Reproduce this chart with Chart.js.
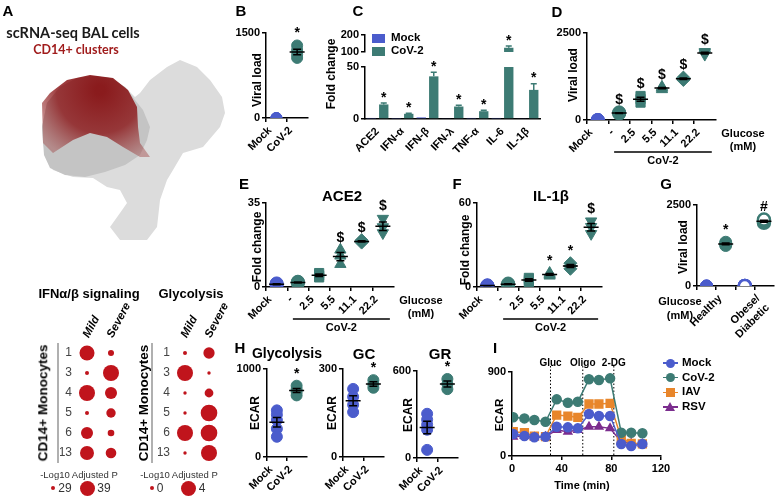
<!DOCTYPE html>
<html lang="en">
<head>
<meta charset="UTF-8">
<title>CoV-2 infection, glucose and glycolysis in monocytes</title>
<script src="https://cdn.jsdelivr.net/npm/chart.js@4.4.0/dist/chart.umd.min.js"></script>
<style>
  html, body { margin: 0; padding: 0; background: #fff; }
  #fig { position: relative; width: 781px; height: 499px; overflow: hidden; font-family: "Liberation Sans", Arial, sans-serif; }
  #fig canvas { position: absolute; }
  .t { position: absolute; white-space: nowrap; line-height: 1; font-weight: bold; color: #000; }
  .s { position: absolute; }
</style>
</head>
<body>
<div id="fig"></div>
<script>
// ---------- data ----------

// A: UMAP outlines (figure units)
const umapAll = [[42,127],[47,103],[60,87],[77,78],[93,76],[110,78],[125,87],[135,97],[140,93],[150,80],[167,67],[180,60],[197,67],[210,80],[222,97],[225,113],[220,127],[203,147],[183,153],[173,170],[167,180],[160,200],[157,227],[147,240],[120,240],[110,227],[120,213],[127,203],[120,190],[107,187],[93,178],[73,177],[53,170],[47,160],[43,143]];
const umapMain = [[42,127],[47,103],[60,87],[77,78],[93,76],[110,78],[125,87],[135,100],[143,110],[150,127],[147,140],[140,155],[125,165],[105,172],[85,177],[65,175],[50,168],[44,155]];
const umapRed = [[42,103],[50,93],[67,80],[90,75],[113,78],[128,90],[137,107],[138,127],[140,143],[150,157],[140,157],[123,147],[107,137],[90,133],[73,140],[53,153],[43,143]];

// A: dot plots, -log10 adjusted P
const clusters = ['1', '3', '4', '5', '6', '13'];
const severity = ['Mild', 'Severe'];
const ifnMild = [38.2, 29, 39, 29, 35.7, 37.3];
const ifnSevere = [30.7, 39, 35.7, 33.5, 31.2, 34.5];
const glyMild = [0.2, 4, 0, 0, 4, 0];
const glySevere = [2.5, 0, 1.7, 4.2, 4.2, 4];

// B
const infection = ['Mock', 'CoV-2'];
const bViral = [[0, 0, 0], [1280, 1200, 1120, 1060]];
const bSigns = ['', '*'];

// C
const genes = ['ACE2', 'IFN-α', 'IFN-β', 'IFN-λ', 'TNF-α', 'IL-6', 'IL-1β'];
const cMock = [1, 0.5, 1.5, 0.8, 1, 1, 0.8];
const cCov = [14, 5, 41, 12, 7.5, 125, 28];
const cCovErr = [1.5, 0.6, 4, 1.2, 0.8, 10, 6];

// D-F
const glucose = ['Mock', '-', '2.5', '5.5', '11.1', '22.2'];
const dViral = [[0, 0, 0], [180, 200, 220], [500, 600, 690], [880, 920, 950], [1150, 1180, 1220], [1880, 1930, 1960]];
const dSigns = ['', '$', '$', '$', '$', '$'];
const eAce2 = [[0.8, 1.2, 1.5], [1.5, 2, 2.2], [4, 4.8, 5.8], [9.5, 13, 15.5], [18.5, 19, 19.5], [22.5, 25, 28.5]];
const eSigns = ['', '', '', '$', '$', '$'];
const fIl1b = [[0.8, 1, 1.2], [1.5, 2, 2.5], [3.5, 5, 6.5], [8, 9, 10], [13, 15, 17], [38, 43, 47]];
const fSigns = ['', '', '', '*', '*', '$'];

// G
const cohort = ['', 'Healthy', '', ['Obese/', 'Diabetic']];
const gViral = [[0, 0, 0], [1250, 1300, 1350], [0, 0, 0], [1950, 2000, 2050]];
const gSigns = ['', '*', '', '#'];

// H
const hGlycolysis = [[530, 480, 420, 320, 230], [810, 770, 740, 700]];
const hGC = [[232, 205, 178, 153], [262, 248, 236]];
const hGR = [[305, 265, 230, 195, 56], [545, 510, 475]];
const hSigns = ['', '*'];

// I
const timeMin = [1, 10, 18, 27, 36, 45, 53, 62, 70, 79, 88, 96, 105];
const iMock = [236, 214, 200, 207, 314, 307, 296, 450, 428, 428, 129, 107, 129];
const iCov = [415, 403, 386, 367, 607, 571, 582, 822, 814, 832, 250, 250, 243];
const iIav = [260, 250, 214, 207, 439, 428, 414, 557, 557, 564, 190, 136, 129];
const iRsv = [207, 214, 200, 207, 279, 260, 279, 314, 314, 296, 153, 136, 129];
const injections = [31, 57, 82];
const injectionNames = ['Gluc', 'Oligo', '2-DG'];

// ---------- look ----------
const FONT = '"Liberation Sans", Arial, sans-serif';
const BLUE = '#4b5ccc', TEAL = '#3d7b74', ORANGE = '#e8862b', PURPLE = '#7b2d8e', RED = '#c0141c';

Chart.defaults.font.family = FONT;
Chart.defaults.font.size = 11;
Chart.defaults.font.weight = 'bold';
Chart.defaults.color = '#000';
Chart.defaults.animation = false;
Chart.defaults.responsive = false;
Chart.defaults.events = [];
Chart.defaults.plugins.legend.display = false;
Chart.defaults.plugins.tooltip.enabled = false;

const fig = document.getElementById('fig');

function canvasAt(left, top, w, h) {
  const c = document.createElement('canvas');
  c.width = w; c.height = h;
  c.style.left = left + 'px'; c.style.top = top + 'px';
  fig.appendChild(c);
  return c;
}

// put a chart so that its plot area lands on `plot` (figure pixels)
function place(plot, yW, xH, pad, config) {
  const w = plot.r - plot.l + yW + (pad.l || 0) + (pad.r || 0);
  const h = plot.b - plot.t + (pad.t || 0) + xH + (pad.b || 0);
  const c = canvasAt(plot.l - yW - (pad.l || 0), plot.t - (pad.t || 0), w, h);
  config.options.layout = { padding: { left: pad.l || 0, right: pad.r || 0, top: pad.t || 0, bottom: pad.b || 0 } };
  const sc = config.options.scales;
  sc.y.afterFit = s => { s.width = yW; s.paddingTop = 0; s.paddingBottom = 0; };
  sc.x.afterFit = s => { s.height = xH; s.paddingLeft = 0; s.paddingRight = 0; };
  return new Chart(c, config);
}

function label(text, x, y, size, o = {}) {
  const d = document.createElement('div');
  d.className = 't';
  d.textContent = text;
  d.style.left = x + 'px';
  d.style.top = y + 'px';
  d.style.fontSize = size + 'px';
  let tf = o.left ? 'translate(0,-50%)' : 'translate(-50%,-50%)';
  if (o.rot) tf += ' rotate(' + o.rot + 'deg)';
  d.style.transform = tf;
  if (o.color) d.style.color = o.color;
  if (o.weight) d.style.fontWeight = o.weight;
  if (o.family) d.style.fontFamily = o.family;
  fig.appendChild(d);
}

function shape(x, y, w, h, css) {
  const d = document.createElement('div');
  d.className = 's';
  d.style.left = (x - w / 2) + 'px';
  d.style.top = (y - h / 2) + 'px';
  d.style.width = w + 'px';
  d.style.height = h + 'px';
  Object.assign(d.style, css);
  fig.appendChild(d);
}

function yLin(min, max, step) {
  return {
    type: 'linear', min, max,
    ticks: { stepSize: step, padding: 2, autoSkip: false, format: { useGrouping: false } },
    grid: { drawOnChartArea: false, tickLength: 4, color: '#000', lineWidth: 1.5 },
    border: { color: '#000', width: 1.5 }
  };
}

function xIdx(labels) {
  return {
    type: 'linear', min: -0.5, max: labels.length - 0.5,
    ticks: {
      stepSize: 1, includeBounds: false, autoSkip: false,
      maxRotation: 45, minRotation: 45, padding: 2, labelOffset: 4,
      callback: v => labels[Math.round(v)]
    },
    grid: { drawOnChartArea: false, tickLength: 4, color: '#000', lineWidth: 1.5 },
    border: { color: '#000', width: 1.5 }
  };
}

function stats(g) {
  const n = g.length;
  const m = g.reduce((a, b) => a + b, 0) / n;
  const sd = Math.sqrt(g.reduce((a, b) => a + (b - m) * (b - m), 0) / (n - 1));
  return { m, se: sd / Math.sqrt(n) };
}

// mean +/- SEM bars
function summaryPlugin(groups) {
  return {
    id: 'summary',
    afterDatasetsDraw(chart) {
      const { ctx, scales: { x, y } } = chart;
      ctx.save();
      ctx.strokeStyle = '#000';
      ctx.lineWidth = 1.5;
      groups.forEach((g, i) => {
        const s = stats(g);
        if (s.m === 0 && s.se === 0) return;
        const px = x.getPixelForValue(i);
        const ym = y.getPixelForValue(s.m);
        const yl = y.getPixelForValue(s.m - s.se);
        const yh = y.getPixelForValue(s.m + s.se);
        ctx.beginPath();
        ctx.moveTo(px - 7.5, ym); ctx.lineTo(px + 7.5, ym);
        ctx.moveTo(px, yl); ctx.lineTo(px, yh);
        ctx.moveTo(px - 4, yl); ctx.lineTo(px + 4, yl);
        ctx.moveTo(px - 4, yh); ctx.lineTo(px + 4, yh);
        ctx.stroke();
      });
      ctx.restore();
    }
  };
}

// significance marks above each group
function signPlugin(groups, signs, gap) {
  return {
    id: 'signs',
    afterDatasetsDraw(chart) {
      const { ctx, scales: { x, y } } = chart;
      ctx.save();
      ctx.fillStyle = '#000';
      ctx.font = 'bold 14px ' + FONT;
      ctx.textAlign = 'center';
      ctx.textBaseline = 'middle';
      signs.forEach((s, i) => {
        if (!s) return;
        ctx.fillText(s, x.getPixelForValue(i), y.getPixelForValue(Math.max(...groups[i])) - gap);
      });
      ctx.restore();
    }
  };
}

// "CoV-2" bracket under the glucose groups
function groupLinePlugin(from, to, text, offset) {
  return {
    id: 'groupLine',
    afterDraw(chart) {
      const { ctx, chartArea, scales: { x } } = chart;
      const x1 = x.getPixelForValue(from) - 5, x2 = x.getPixelForValue(to) + 7;
      const y = chartArea.bottom + offset;
      ctx.save();
      ctx.strokeStyle = '#000';
      ctx.lineWidth = 1.5;
      ctx.beginPath(); ctx.moveTo(x1, y); ctx.lineTo(x2, y); ctx.stroke();
      ctx.fillStyle = '#000';
      ctx.font = 'bold 11px ' + FONT;
      ctx.textAlign = 'center';
      ctx.textBaseline = 'top';
      ctx.fillText(text, (x1 + x2) / 2, y + 3);
      ctx.restore();
    }
  };
}

// error whiskers + star on bars (panel C)
function barErrPlugin(dsIndex, values, errs, sign) {
  return {
    id: 'barErr',
    afterDatasetsDraw(chart) {
      const { ctx, scales: { y } } = chart;
      const meta = chart.getDatasetMeta(dsIndex);
      ctx.save();
      meta.data.forEach((bar, i) => {
        const v = values[i];
        if (v == null || v > y.max || v < y.min) return;
        const yb = y.getPixelForValue(v), yt = y.getPixelForValue(v + errs[i]);
        ctx.strokeStyle = TEAL;
        ctx.lineWidth = 1.5;
        ctx.beginPath();
        ctx.moveTo(bar.x, yb); ctx.lineTo(bar.x, yt);
        ctx.moveTo(bar.x - 3, yt); ctx.lineTo(bar.x + 3, yt);
        ctx.stroke();
        ctx.fillStyle = '#000';
        ctx.font = 'bold 14px ' + FONT;
        ctx.textAlign = 'center';
        ctx.textBaseline = 'middle';
        ctx.fillText(sign, bar.x, yt - 5);
      });
      ctx.restore();
    }
  };
}

// dotted injection lines (panel I)
function injectionPlugin(times, names) {
  return {
    id: 'injections',
    beforeDatasetsDraw(chart) {
      const { ctx, chartArea, scales: { x } } = chart;
      ctx.save();
      ctx.strokeStyle = '#000';
      ctx.lineWidth = 1;
      ctx.setLineDash([1.5, 2]);
      times.forEach(t => {
        const px = x.getPixelForValue(t);
        ctx.beginPath(); ctx.moveTo(px, chartArea.top - 6); ctx.lineTo(px, chartArea.bottom); ctx.stroke();
      });
      ctx.setLineDash([]);
      ctx.fillStyle = '#000';
      ctx.font = 'bold 10px ' + FONT;
      ctx.textAlign = 'center';
      ctx.textBaseline = 'middle';
      names.forEach((n, k) => ctx.fillText(n, x.getPixelForValue(times[k]), chartArea.top - 9));
      ctx.restore();
    }
  };
}

// slanted column headers of the dot plots, placed on the x scale
function columnHeadPlugin(names) {
  return {
    id: 'columnHeads',
    afterDraw(chart) {
      const { ctx, chartArea, scales: { x } } = chart;
      ctx.save();
      ctx.fillStyle = '#000';
      ctx.font = 'italic bold 11.5px ' + FONT;
      ctx.textAlign = 'left';
      ctx.textBaseline = 'middle';
      names.forEach((n, i) => {
        ctx.save();
        ctx.translate(x.getPixelForValue(i) - 1, chartArea.top - 6);
        ctx.rotate(-62 * Math.PI / 180);
        ctx.fillText(n, 0, 0);
        ctx.restore();
      });
      ctx.restore();
    }
  };
}

// scatter-by-group panels (B, D-H)
function groupPanel(plot, yW, xH, cats, groups, yMax, look, signs, extraPlugins = []) {
  const datasets = groups.map((g, i) => ({
    data: g.map(v => ({ x: i, y: v })),
    pointStyle: look.style[i],
    pointRotation: look.rot ? look.rot[i] : 0,
    pointRadius: look.radius,
    pointBackgroundColor: look.fill[i],
    pointBorderColor: look.stroke[i],
    pointBorderWidth: look.width ? look.width[i] : 1
  }));
  return place(plot, yW, xH, { t: 22, r: 6 }, {
    type: 'scatter',
    data: { datasets },
    options: { scales: { x: xIdx(cats), y: yLin(0, yMax, yMax) } },
    plugins: [summaryPlugin(groups), signPlugin(groups, signs, 12)].concat(extraPlugins)
  });
}

// ---------- A ----------
const asXY = pts => pts.map(p => ({ x: p[0], y: p[1] }));
function redShade(c) {
  const { ctx, scales } = c.chart;
  const cx = scales.x ? scales.x.getPixelForValue(100) : NaN;
  const cy = scales.y ? scales.y.getPixelForValue(90) : NaN;
  if (!isFinite(cx) || !isFinite(cy)) return 'rgba(140,20,22,0.85)';
  const g = ctx.createRadialGradient(cx, cy, 5, cx, cy, 75);
  g.addColorStop(0, 'rgba(135,18,20,0.95)');
  g.addColorStop(0.55, 'rgba(140,24,26,0.82)');
  g.addColorStop(1, 'rgba(160,70,70,0.45)');
  return g;
}
place({ l: 0, t: 0, r: 240, b: 250 }, 0, 0, {}, {
  type: 'line',
  data: {
    datasets: [
      { data: asXY(umapRed), fill: 'shape', backgroundColor: redShade, borderWidth: 0, pointRadius: 0 },
      { data: asXY(umapMain), fill: 'shape', backgroundColor: '#c4c4c4', borderWidth: 0, pointRadius: 0 },
      { data: asXY(umapAll), fill: 'shape', backgroundColor: '#dcdcdc', borderWidth: 0, pointRadius: 0 }
    ]
  },
  options: {
    scales: {
      x: { type: 'linear', display: false, min: 0, max: 240 },
      y: { type: 'linear', display: false, min: 0, max: 250, reverse: true }
    }
  }
});

const ifnR = v => 2 + (v - 29) / 10 * 6;
const glyR = v => 1.7 + v / 4 * 6.3;

function bubblePanel(l, mild, severe, rOf) {
  const c = canvasAt(l - 30, 293, 48 + 30 + 34, 120 + 50 + 10);
  const mk = (vals, col) => ({
    data: vals.map((v, k) => ({ x: col, y: clusters[k], r: rOf(v) })),
    backgroundColor: RED, borderColor: RED, borderWidth: 0
  });
  new Chart(c, {
    type: 'bubble',
    data: { datasets: [mk(mild, 'Mild'), mk(severe, 'Severe')] },
    options: {
      layout: { padding: { left: 15, right: 34, bottom: 10 } },
      scales: {
        x: {
          type: 'category', labels: severity, position: 'top', offset: true,
          grid: { display: false, drawTicks: false }, border: { display: false },
          ticks: { display: false },
          afterFit: s => { s.height = 50; s.paddingLeft = 0; s.paddingRight = 0; }
        },
        y: {
          type: 'category', labels: clusters, offset: true,
          grid: { display: false, drawTicks: false }, border: { display: false },
          ticks: { padding: 3, color: '#444', font: { weight: 'normal', size: 12 } },
          afterFit: s => { s.width = 15; s.paddingTop = 0; s.paddingBottom = 0; }
        }
      }
    },
    plugins: [columnHeadPlugin(severity)]
  });
}
bubblePanel(75, ifnMild, ifnSevere, ifnR);
bubblePanel(173, glyMild, glySevere, glyR);

// ---------- B ----------
const mockCov = { style: ['circle', 'circle'], fill: [BLUE, TEAL], stroke: [BLUE, TEAL], radius: 5.5 };
groupPanel({ l: 266, t: 33, r: 308, b: 118 }, 32, 45, infection, bViral, 1500, mockCov, bSigns);

// ---------- C ----------
const barLook = { barPercentage: 0.75, categoryPercentage: 1, clip: 0 };
const cX = {
  type: 'category',
  ticks: { autoSkip: false, maxRotation: 45, minRotation: 45, padding: 6 },
  grid: { display: false, drawTicks: false },
  border: { color: '#000', width: 1.5 }
};
place({ l: 365, t: 67, r: 540, b: 119 }, 26, 45, { t: 14, r: 4 }, {
  type: 'bar',
  data: {
    labels: genes,
    datasets: [
      Object.assign({ data: cMock, backgroundColor: BLUE }, barLook),
      Object.assign({ data: cCov, backgroundColor: TEAL }, barLook)
    ]
  },
  options: { scales: { x: cX, y: yLin(0, 50, 50) } },
  plugins: [barErrPlugin(1, cCov, cCovErr, '*')]
});
place({ l: 365, t: 35, r: 540, b: 52 }, 26, 0, { t: 12, r: 4, b: 8 }, {
  type: 'bar',
  data: {
    labels: genes,
    datasets: [
      Object.assign({ data: cMock, backgroundColor: BLUE }, barLook),
      Object.assign({ data: cCov, backgroundColor: TEAL }, barLook)
    ]
  },
  options: { scales: { x: Object.assign({}, cX, { display: false }), y: yLin(100, 200, 100) } },
  plugins: [barErrPlugin(1, cCov, cCovErr, '*')]
});

// ---------- D-F ----------
const glucLook = {
  style: ['circle', 'circle', 'rect', 'triangle', 'rectRot', 'triangle'],
  rot: [0, 0, 0, 0, 0, 180],
  fill: [BLUE, TEAL, TEAL, TEAL, TEAL, TEAL],
  stroke: [BLUE, TEAL, TEAL, TEAL, TEAL, TEAL],
  radius: 6.5
};
groupPanel({ l: 587, t: 33, r: 717, b: 120 }, 32, 52, glucose, dViral, 2500, glucLook, dSigns, [groupLinePlugin(1, 5, 'CoV-2', 32)]);
groupPanel({ l: 266, t: 203, r: 395, b: 287 }, 22, 52, glucose, eAce2, 35, glucLook, eSigns, [groupLinePlugin(1, 5, 'CoV-2', 32)]);
groupPanel({ l: 477, t: 203, r: 603, b: 287 }, 22, 52, glucose, fIl1b, 60, glucLook, fSigns, [groupLinePlugin(1, 5, 'CoV-2', 32)]);

// ---------- G ----------
const cohortLook = {
  style: ['circle', 'circle', 'circle', 'circle'],
  fill: [BLUE, TEAL, '#fff', '#fff'],
  stroke: [BLUE, TEAL, BLUE, TEAL],
  width: [1, 1, 2.5, 2.5],
  radius: 6
};
groupPanel({ l: 697, t: 205, r: 776, b: 286 }, 32, 56, cohort, gViral, 2500, cohortLook, gSigns);

// ---------- H ----------
groupPanel({ l: 267, t: 369, r: 307, b: 457 }, 32, 40, infection, hGlycolysis, 1000, mockCov, hSigns);
groupPanel({ l: 343, t: 369, r: 384, b: 457 }, 26, 40, infection, hGC, 300, mockCov, hSigns);
groupPanel({ l: 417, t: 371, r: 458, b: 458 }, 26, 40, infection, hGR, 600, mockCov, hSigns);

// ---------- I ----------
const iSeries = [
  { values: iMock, color: BLUE, style: 'circle' },
  { values: iCov, color: TEAL, style: 'circle' },
  { values: iIav, color: ORANGE, style: 'rect' },
  { values: iRsv, color: PURPLE, style: 'triangle' }
];
place({ l: 512, t: 372, r: 661, b: 456 }, 26, 22, { t: 20, r: 12 }, {
  type: 'line',
  data: {
    datasets: iSeries.map(s => ({
      data: timeMin.map((t, k) => ({ x: t, y: s.values[k] })),
      borderColor: s.color, backgroundColor: s.color,
      pointBackgroundColor: s.color, pointBorderColor: s.color,
      pointStyle: s.style, pointRadius: s.style === 'rect' ? 5.5 : 4.5,
      borderWidth: 1.5, tension: 0
    }))
  },
  options: {
    scales: {
      x: {
        type: 'linear', min: 0, max: 120,
        ticks: { stepSize: 40, maxRotation: 0, padding: 2 },
        grid: { drawOnChartArea: false, tickLength: 4, color: '#000', lineWidth: 1.5 },
        border: { color: '#000', width: 1.5 }
      },
      y: yLin(0, 900, 900)
    }
  },
  plugins: [injectionPlugin(injections, injectionNames)]
});

// ---------- text ----------
const LATO = 'Lato, "Liberation Sans", sans-serif';
[['A', 8, 10], ['B', 241, 10], ['C', 358, 10], ['D', 557, 11], ['E', 244, 183],
 ['F', 457, 183], ['G', 666, 183], ['H', 240, 347], ['I', 495, 347]]
  .forEach(p => label(p[0], p[1], p[2], 15));

label('scRNA-seq BAL cells', 73, 33, 14.5, { family: LATO, color: '#1a1a1a' });
label('CD14+ clusters', 76, 50, 12.5, { family: LATO, color: '#a01c1c' });
label('IFNα/β signaling', 89, 293, 13);
label('Glycolysis', 191, 293, 13);
label('CD14+ Monocytes', 43, 403, 13.5, { rot: -90 });
label('CD14+ Monocytes', 144, 403, 13.5, { rot: -90 });
shape(58, 403, 1.5, 120, { background: '#b0b0b0' });
shape(152, 403, 1.5, 120, { background: '#b0b0b0' });
label('-Log10 Adjusted P', 79, 475, 9.5, { weight: 'normal', color: '#333' });
label('-Log10 Adjusted P', 179, 475, 9.5, { weight: 'normal', color: '#333' });
shape(53, 488, 4, 4, { background: RED, borderRadius: '50%' });
label('29', 65, 488, 12, { weight: 'normal', color: '#333' });
shape(87, 488, 15, 15, { background: RED, borderRadius: '50%' });
label('39', 104, 488, 12, { weight: 'normal', color: '#333' });
shape(152, 488, 4, 4, { background: RED, borderRadius: '50%' });
label('0', 160, 488, 12, { weight: 'normal', color: '#333' });
shape(188, 488, 15, 15, { background: RED, borderRadius: '50%' });
label('4', 202, 488, 12, { weight: 'normal', color: '#333' });

label('Viral load', 257, 80, 12, { rot: -90 });
label('Fold change', 331, 74, 12, { rot: -90 });
shape(378, 38, 13, 9, { background: BLUE });
label('Mock', 391, 38, 11.5, { left: true });
shape(378, 51, 13, 9, { background: TEAL });
label('CoV-2', 391, 51, 11.5, { left: true });

label('Viral load', 573, 75, 12, { rot: -90 });
label('Glucose', 743, 133, 11);
label('(mM)', 743, 146, 11);

label('ACE2', 342, 195, 15);
label('Fold change', 257, 247, 12, { rot: -90 });
label('Glucose', 421, 300, 11);
label('(mM)', 421, 313, 11);

label('IL-1β', 551, 195, 15);
label('Fold change', 465, 250, 12, { rot: -90 });
label('Glucose', 680, 301, 11);
label('(mM)', 680, 315, 11);

label('Viral load', 683, 247, 12, { rot: -90 });

label('Glycolysis', 287, 353, 14);
label('GC', 364, 353, 15);
label('GR', 440, 353, 15);
label('ECAR', 255, 413, 12, { rot: -90 });
label('ECAR', 332, 413, 12, { rot: -90 });
label('ECAR', 408, 415, 12, { rot: -90 });

label('ECAR', 500, 415, 11.5, { rot: -90 });
label('Time (min)', 582, 485, 11);
const legendRows = [['Mock', BLUE, 'circle'], ['CoV-2', TEAL, 'circle'], ['IAV', ORANGE, 'rect'], ['RSV', PURPLE, 'triangle']];
legendRows.forEach((row, k) => {
  const y = 363 + k * 14.7;
  shape(670, y, 15, 1.5, { background: row[1] });
  if (row[2] === 'circle') shape(670, y, 9, 9, { background: row[1], borderRadius: '50%' });
  if (row[2] === 'rect') shape(670, y, 9, 9, { background: row[1] });
  if (row[2] === 'triangle') shape(670, y - 1, 0, 0, { borderLeft: '5px solid transparent', borderRight: '5px solid transparent', borderBottom: '9px solid ' + row[1], marginLeft: '-5px', marginTop: '-4px' });
  label(row[0], 682, y, 11.5, { left: true });
});
</script>
</body>
</html>
